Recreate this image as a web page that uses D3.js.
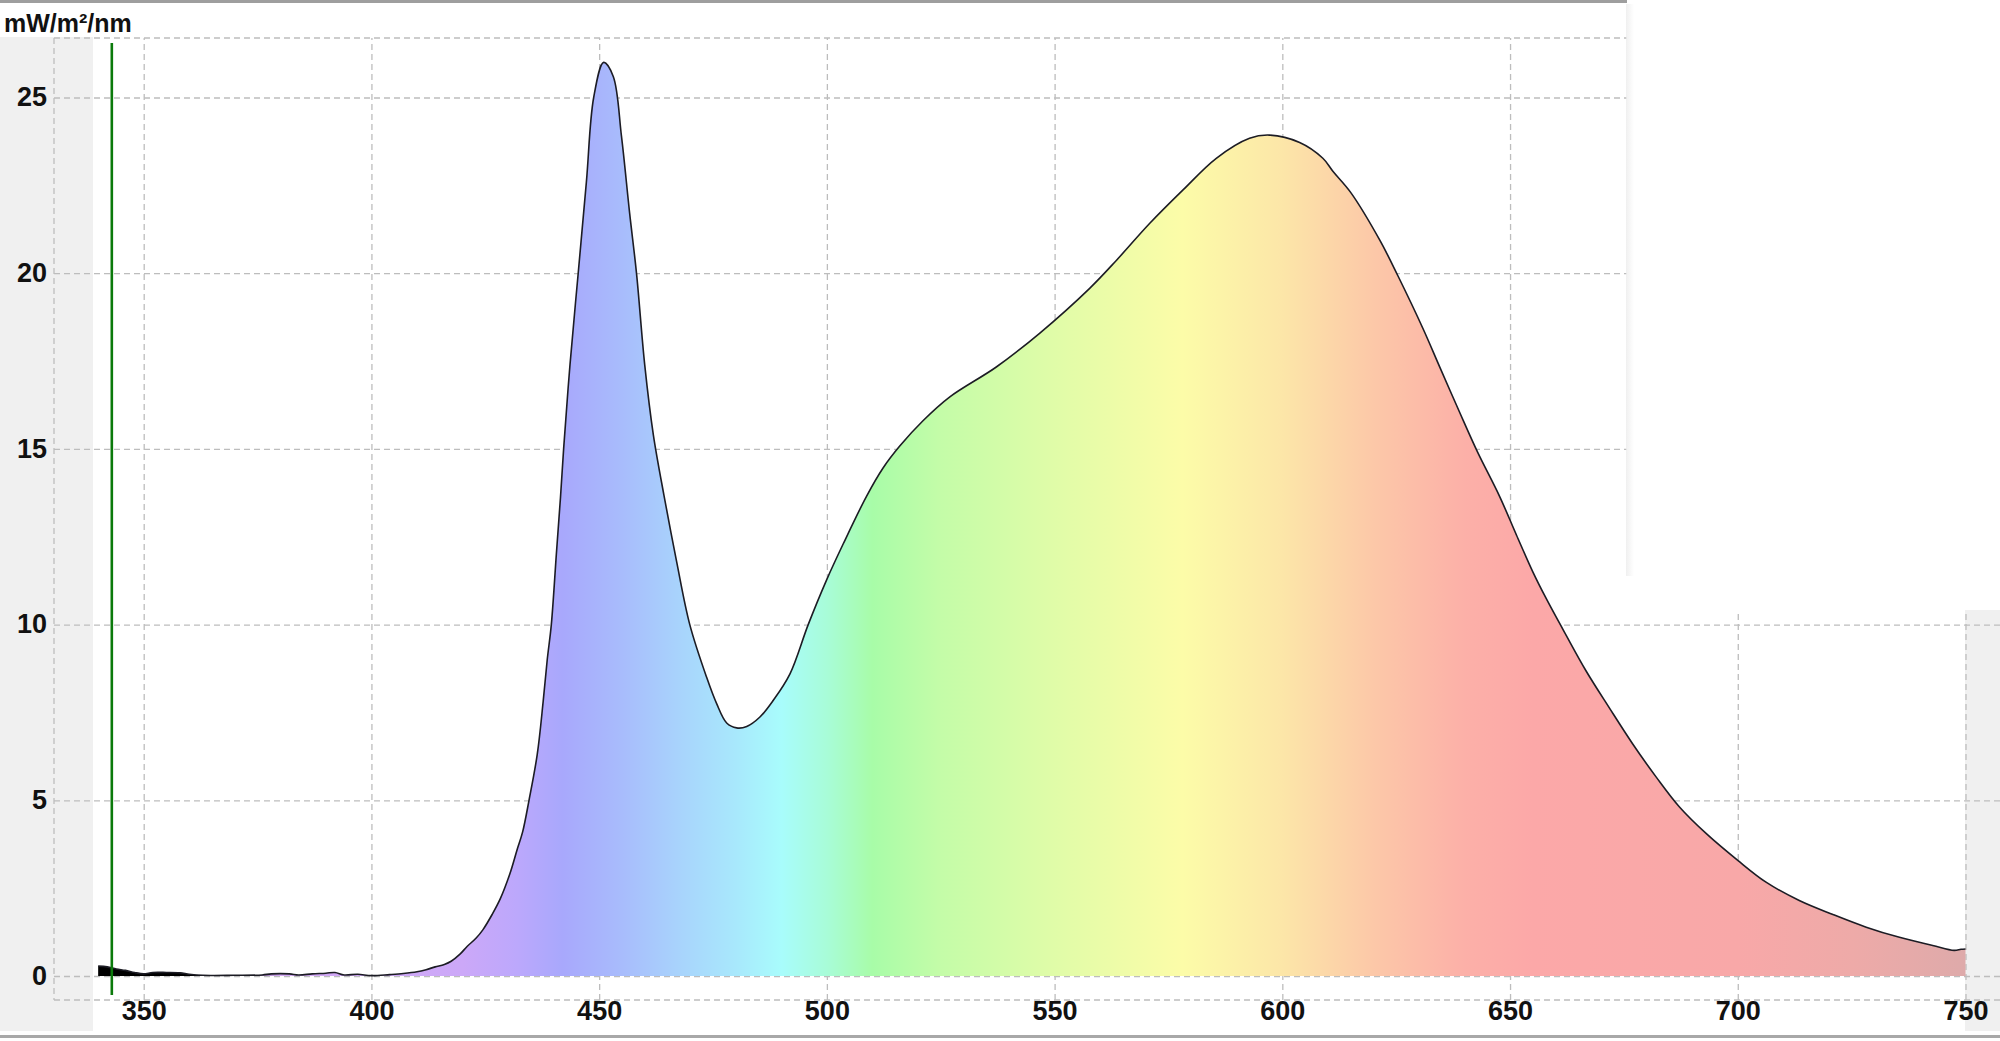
<!DOCTYPE html>
<html>
<head>
<meta charset="utf-8">
<script src="https://cdn.jsdelivr.net/npm/d3@7"></script>
<style>
  html, body { margin: 0; padding: 0; background: #ffffff; }
  svg { display: block; }
  .lbl { font-family: "Liberation Sans Narrow", "Arial Narrow", "Liberation Sans", Arial, sans-serif; font-weight: bold; fill: #111; }
</style>
</head>
<body>
<svg id="chart" width="2000" height="1041"></svg>
<script>
// ---------------- data ----------------
const unitLabel = "mW/m²/nm";
const xTicks = [350, 400, 450, 500, 550, 600, 650, 700, 750];
const yTicks = [0, 5, 10, 15, 20, 25];
const markerNm = 343;

const wavelength = [
  340, 342, 344, 346, 348, 350, 352, 355, 358, 360, 363, 370, 376, 378, 382, 384, 387, 390, 392, 394,
  397, 400, 404, 407, 410, 412, 414, 416, 417.5, 419.5, 421, 423, 424.5, 426.5, 428.3, 430.4, 432, 433.2,
  434.6, 436.4, 437.7, 438.6, 439.5, 440.6, 441.5, 442.2, 443.6, 445.4, 447.2, 448.8, 451.0, 453.1, 454.9,
  456.7, 458.2, 460.0, 461.9, 464.2, 467.0, 469.9, 473.6, 475.8, 478.0, 480.2, 482.4, 485.3, 488.2, 491.9,
  495.9, 499.9, 503.6, 508.7, 512.3, 516.0, 521.1, 527.0, 537.2, 546.7, 557.7, 563.6, 570.9, 578.2, 585.5,
  592.8, 597.2, 603.8, 608.9, 611.1, 615.0, 621.4, 625.4, 630.9, 634.5, 638.9, 642.9, 647.7, 651.4, 655.0,
  657.9, 662.3, 666.7, 671.8, 676.9, 682.1, 687.2, 693.1, 700.0, 706.2, 713.5, 720.9, 728.2, 735.5, 742.8,
  747.5, 749, 750
];
const irradiance = [
  0.28, 0.26, 0.20, 0.16, 0.10, 0.06, 0.10, 0.10, 0.09, 0.05, 0.02, 0.02, 0.03, 0.06, 0.06, 0.03, 0.06, 0.08, 0.10, 0.03,
  0.05, 0.01, 0.04, 0.07, 0.12, 0.18, 0.26, 0.33, 0.42, 0.63, 0.84, 1.08, 1.32, 1.75, 2.20, 2.91, 3.60, 4.10,
  5.00, 6.30, 7.80, 9.00, 10.0, 12.0, 13.6, 15.0, 17.4, 20.0, 22.6, 25.0, 26.0, 25.6, 23.9,
  21.7, 20.0, 17.4, 15.4, 13.7, 11.8, 10.0, 8.50, 7.75, 7.20, 7.06, 7.10, 7.37, 7.84, 8.60,
  10.0, 11.26, 12.3, 13.65, 14.45, 15.08, 15.8, 16.48, 17.33, 18.29, 19.57, 20.37, 21.42, 22.37, 23.27,
  23.84, 23.93, 23.72, 23.27, 22.9, 22.3, 20.94, 19.92, 18.42, 17.35, 16.05, 14.9, 13.65, 12.55, 11.5,
  10.75, 9.7, 8.68, 7.63, 6.61, 5.66, 4.81, 4.05, 3.29, 2.67, 2.15, 1.75, 1.39, 1.10, 0.87,
  0.73, 0.76, 0.77
];

// spectrum fill colours (style)
const spectrumNm    = [340, 365, 380, 420, 432, 442, 455, 468, 480, 490, 500, 510, 525, 550, 578, 600, 620, 640, 655, 700, 725, 750];
const spectrumColor = ["#000000", "#000000", "#d4a8f4", "#cca8f8", "#bca8fc", "#a8a8fc", "#a8bcfc", "#a8d4fc", "#a8e8fc",
                       "#a8fcfc", "#a8fcd8", "#a8fca8", "#c4fca8", "#e0fca8", "#fcfca8", "#fce6a8", "#fcc8a8", "#fcb0a8",
                       "#fca8a8", "#f8a8a8", "#eeaaa8", "#deaaaa"];

// ---------------- layout ----------------
const svg = d3.select("#chart");
const W = 2000, H = 1041;
const frameLeft = 54, frameTop = 38, frameBottom = 1000;
const cutX = 1627, cutY = 610;

const x = d3.scaleLinear().domain([350, 750]).range([143.7, 1965.5]);
const y = d3.scaleLinear().domain([0, 25]).range([976, 97.5]);

const data = wavelength.map((w, i) => ({ w, v: irradiance[i] }));

// background panels
svg.append("rect").attr("x", 0).attr("y", 37).attr("width", 93).attr("height", 994).attr("fill", "#f0f0f0");
svg.append("rect").attr("x", 1965).attr("y", cutY).attr("width", 35).attr("height", 1031 - cutY).attr("fill", "#f0f0f0");

const gridColor = "#bdbdbd";
const dash = "6,4";

// horizontal grid + y labels
const yAxis = svg.append("g")
  .attr("transform", `translate(${frameLeft},0)`)
  .call(d3.axisLeft(y).tickValues(yTicks).tickSize(-(W - frameLeft)).tickPadding(7));
yAxis.select(".domain").remove();
yAxis.selectAll(".tick line").attr("stroke", gridColor).attr("stroke-width", 1.3).attr("stroke-dasharray", dash);
yAxis.selectAll(".tick text").attr("class", "lbl").attr("font-size", 27).attr("dy", "0.3em");

// vertical grid + x labels
const xAxis = svg.append("g")
  .attr("transform", `translate(0,${frameBottom})`)
  .call(d3.axisBottom(x).tickValues(xTicks).tickSize(-(frameBottom - frameTop)).tickPadding(1));
xAxis.select(".domain").remove();
xAxis.selectAll(".tick line").attr("stroke", gridColor).attr("stroke-width", 1.3).attr("stroke-dasharray", dash);
xAxis.selectAll(".tick text").attr("class", "lbl").attr("font-size", 27);

// dashed frame
const frame = svg.append("g").attr("stroke", gridColor).attr("stroke-width", 1.3).attr("stroke-dasharray", dash).attr("fill", "none");
frame.append("line").attr("x1", frameLeft).attr("x2", frameLeft).attr("y1", frameTop).attr("y2", frameBottom);
frame.append("line").attr("x1", frameLeft).attr("x2", cutX).attr("y1", frameTop).attr("y2", frameTop);
frame.append("line").attr("x1", frameLeft).attr("x2", W).attr("y1", frameBottom).attr("y2", frameBottom);

// cut-off (blank) top-right region with soft shadow edge
svg.append("rect").attr("x", cutX).attr("y", 0).attr("width", W - cutX).attr("height", cutY).attr("fill", "#ffffff");
const defs = svg.append("defs");
const sh = defs.append("linearGradient").attr("id", "shadow").attr("x1", 0).attr("x2", 1).attr("y1", 0).attr("y2", 0);
sh.append("stop").attr("offset", 0).attr("stop-color", "#ececec");
sh.append("stop").attr("offset", 1).attr("stop-color", "#ffffff");
svg.append("rect").attr("x", cutX - 1).attr("y", 4).attr("width", 8).attr("height", 572).attr("fill", "url(#shadow)").attr("opacity", 0.8);

// top & bottom window lines
svg.append("rect").attr("x", 0).attr("y", 0).attr("width", cutX).attr("height", 3).attr("fill", "#9e9e9e");
svg.append("rect").attr("x", 0).attr("y", 1035).attr("width", W).attr("height", 3).attr("fill", "#a8a8a8");

// spectrum gradient
const grad = defs.append("linearGradient").attr("id", "spectrum")
  .attr("gradientUnits", "userSpaceOnUse")
  .attr("x1", x(spectrumNm[0])).attr("x2", x(spectrumNm[spectrumNm.length - 1])).attr("y1", 0).attr("y2", 0);
const gx0 = x(spectrumNm[0]), gx1 = x(spectrumNm[spectrumNm.length - 1]);
spectrumNm.forEach((n, i) => {
  grad.append("stop").attr("offset", (x(n) - gx0) / (gx1 - gx0)).attr("stop-color", spectrumColor[i]);
});

// area + line
const curve = d3.curveCatmullRom.alpha(0.5);
const area = d3.area().x(d => x(d.w)).y0(y(0)).y1(d => y(d.v)).curve(curve);
const line = d3.line().x(d => x(d.w)).y(d => y(d.v)).curve(curve);
svg.append("path").datum(data).attr("d", area).attr("fill", "url(#spectrum)");
svg.append("path").datum(data).attr("d", line).attr("fill", "none").attr("stroke", "#1c1c24").attr("stroke-width", 1.6);

// green marker line
svg.append("line").attr("x1", x(markerNm)).attr("x2", x(markerNm)).attr("y1", 43).attr("y2", 995)
  .attr("stroke", "#0b7a0b").attr("stroke-width", 2.6);

// unit label
svg.append("text").attr("x", 4).attr("y", 32).attr("font-family", "'Liberation Sans', Arial, sans-serif")
  .attr("font-weight", "bold").attr("font-size", 25).attr("fill", "#111").text(unitLabel);
</script>
</body>
</html>
